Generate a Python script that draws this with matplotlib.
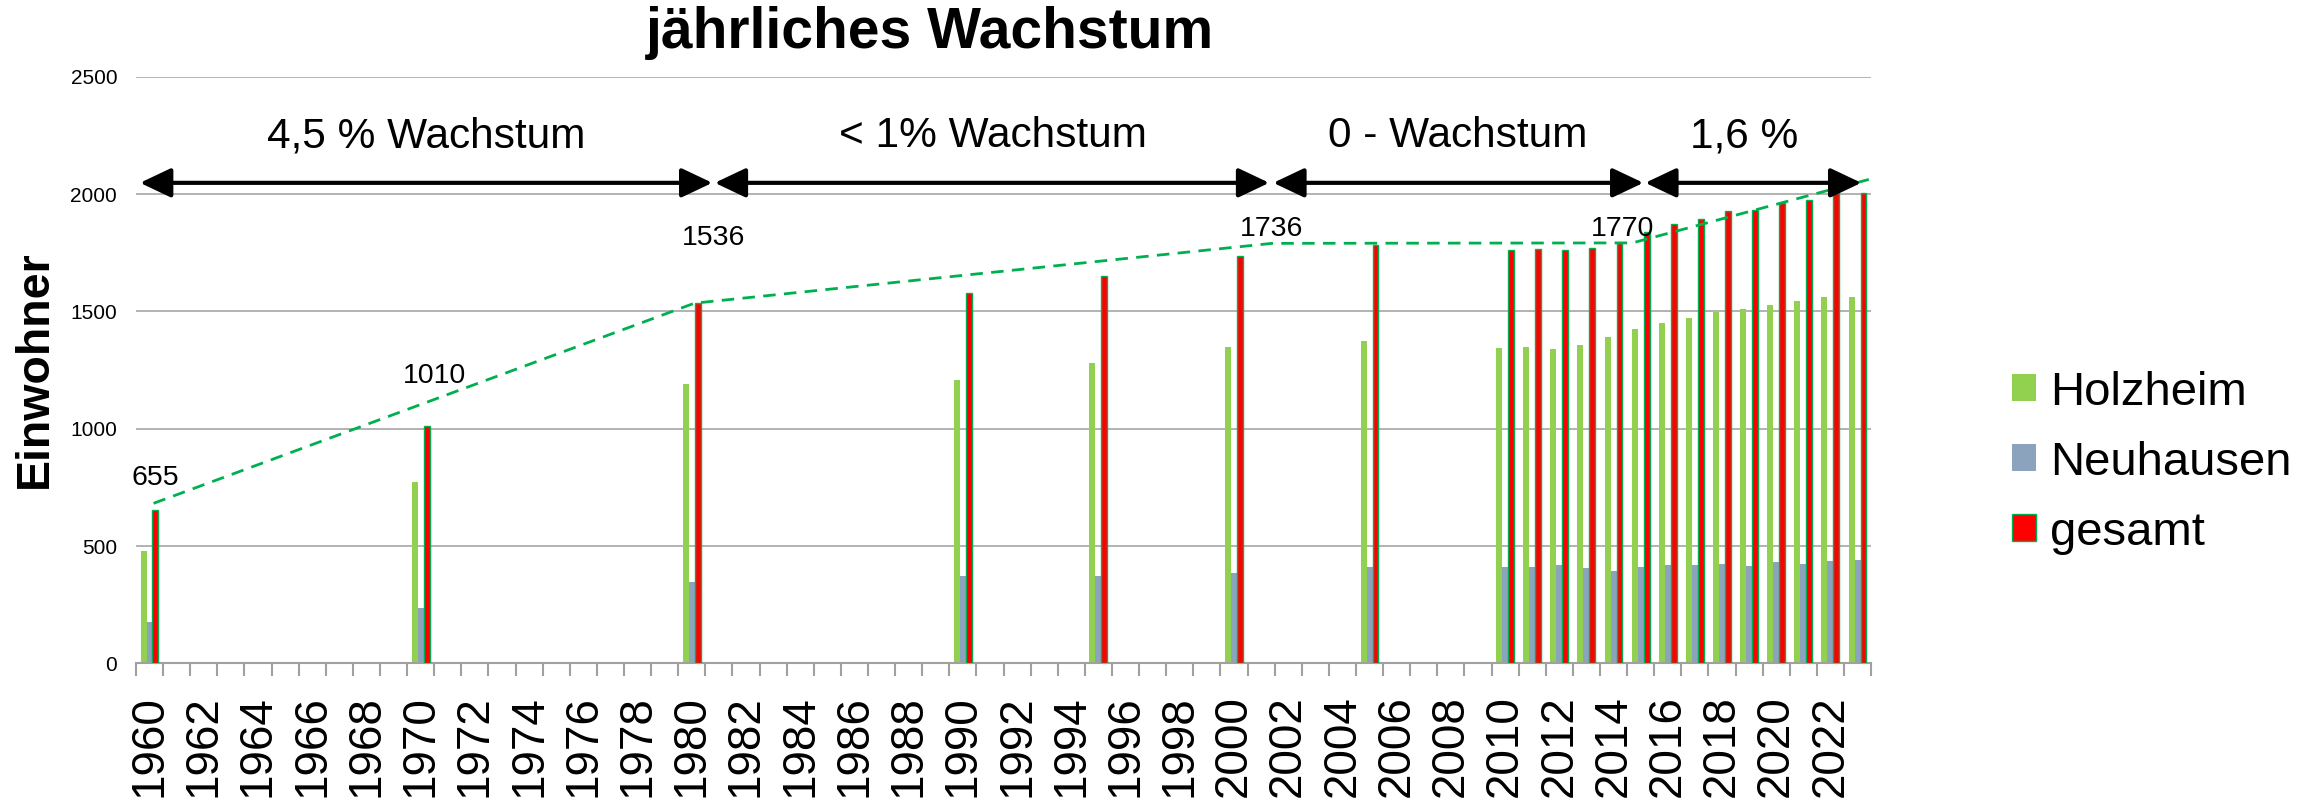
# -*- coding: utf-8 -*-

# Einwohnerentwicklung Holzheim / Neuhausen, jährliches Wachstum

import numpy as np
import matplotlib
matplotlib.use("Agg")
import matplotlib.pyplot as plt

plt.rcParams["font.family"] = ["Liberation Sans", "DejaVu Sans"]

# Daten
alle_jahre = np.arange(1960, 2024)
jahre = [1960, 1970, 1980, 1990, 1995, 2000, 2005,
         2010, 2011, 2012, 2013, 2014, 2015, 2016,
         2017, 2018, 2019, 2020, 2021, 2022, 2023]
holzheim = [479, 774, 1190, 1208, 1279, 1350, 1372,
            1345, 1350, 1340, 1358, 1393, 1426, 1451,
            1470, 1499, 1512, 1526, 1545, 1561, 1561]
neuhausen = [176, 236, 346, 372, 373, 386, 410,
             409, 409, 418, 406, 395, 410, 418,
             420, 425, 415, 431, 422, 435, 439]
gesamt = [655, 1010, 1536, 1580, 1652, 1736, 1782,
          1762, 1764, 1763, 1770, 1790, 1840, 1871,
          1893, 1928, 1931, 1961, 1974, 2003, 2006]

# Trendlinie (gestrichelt)
trend_x = [1960.15, 1980.1, 2001.4, 2014.7, 2023.5]
trend_y = [682, 1535, 1790, 1792, 2065]

# Pfeile für die Wachstumsphasen
phasen_start = [1959.65, 1980.85, 2001.45, 2015.17]
phasen_ende = [1980.76, 2001.3, 2015.1, 2023.14]
phasen_text = ["4,5 % Wachstum", "< 1% Wachstum", "0 - Wachstum", "1,6 %"]
phasen_text_x = [1970.2, 1991.1, 2008.25, 2018.8]

# Wertbeschriftungen
wert_text = ["655", "1010", "1536", "1736", "1770"]
wert_x = [1960.23, 1970.5, 1980.79, 2001.38, 2014.32]
wert_y = [790, 1225, 1813, 1850, 1850]

fig = plt.figure(figsize=(23.2, 7.99), dpi=100)
ax = fig.add_axes([0.0586, 0.1698, 0.7479, 0.7341])

x = np.array(jahre)
w = 0.22
ax.bar(x - w, holzheim, width=w, color="#92D050", label="Holzheim", zorder=2)
ax.bar(x, neuhausen, width=w, color="#8BA3BC", label="Neuhausen", zorder=2)
ax.bar(x + w, gesamt, width=w, color="#FF0000", edgecolor="#00B050",
       linewidth=1.0, label="gesamt", zorder=3)

ax.plot(trend_x, trend_y, color="#00B050", lw=2.0, ls=(0, (4.5, 3)), zorder=4)

pfeil_y = 2048
for x0, x1 in zip(phasen_start, phasen_ende):
    ax.annotate("", xy=(x1, pfeil_y), xytext=(x0, pfeil_y),
                arrowprops=dict(arrowstyle="<|-|>,head_length=1.9,head_width=0.9",
                                color="black", lw=3, shrinkA=0, shrinkB=0,
                                mutation_scale=10),
                annotation_clip=False, zorder=5)
for t, tx in zip(phasen_text, phasen_text_x):
    ax.text(tx, 2247, t, ha="center", va="center", fontsize=30.5)

for t, tx, ty in zip(wert_text, wert_x, wert_y):
    ax.text(tx, ty, t, ha="center", va="center", fontsize=20.5, zorder=6)

# Achsen
ax.set_xlim(1959.5, 2023.5)
ax.set_ylim(0, 2500)
ax.set_yticks(np.arange(0, 2501, 500))
ax.tick_params(axis="y", length=0, pad=13.5, labelsize=15)
ax.yaxis.grid(True, color="#A6A6A6", lw=1.2, zorder=0)
ax.set_axisbelow(True)

ax.set_xticks(alle_jahre[::2])
ax.set_xticklabels([str(j) for j in alle_jahre[::2]], rotation=90)
ax.set_xticks(np.arange(1959.5, 2024.0, 1), minor=True)
ax.tick_params(axis="x", which="major", length=0, pad=23, labelsize=33)
ax.tick_params(axis="x", which="minor", length=9.4, width=1.5,
               color="#A0A0A0", direction="out")

for s in ["top", "right", "left"]:
    ax.spines[s].set_visible(False)
ax.spines["bottom"].set_color("#A0A0A0")
ax.spines["bottom"].set_linewidth(1.5)

fig.text(0.401, 1 - 32.5 / 799, "jährliches Wachstum", ha="center",
         va="center", fontsize=41, fontweight="bold")
fig.text(34.5 / 2320, 1 - 369 / 799, "Einwohner", ha="center", va="center",
         rotation=90, fontsize=33.5, fontweight="bold")

fig.legend(loc="center left", bbox_to_anchor=(0.849, 0.421), frameon=False,
           fontsize=34, handlelength=0.5, handleheight=0.5,
           handletextpad=0.3, labelspacing=0.55)

fig.savefig("out.png", dpi=100)
